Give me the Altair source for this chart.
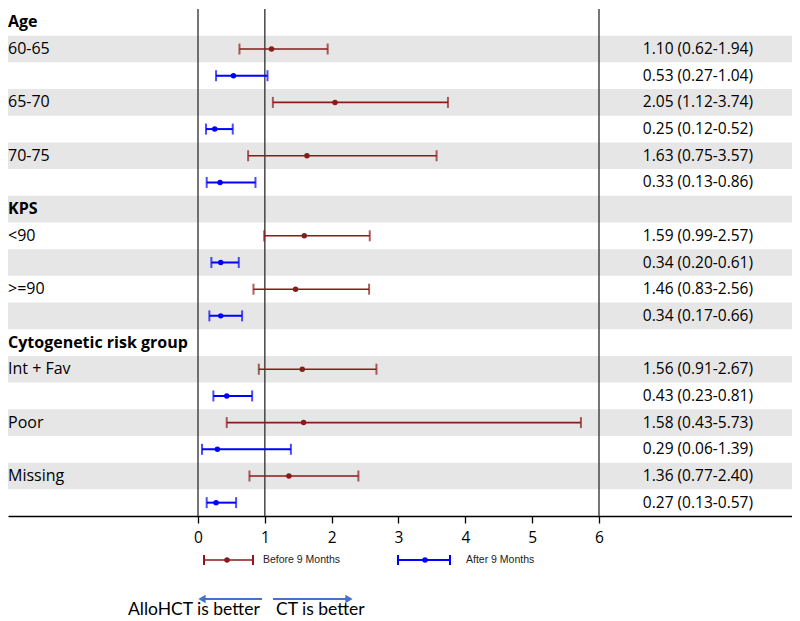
import altair as alt
import pandas as pd

# ---------------- data ----------------
sections = ["Age", "KPS", "Cytogenetic risk group"]
subgroups = [["60-65", "65-70", "70-75"], ["<90", ">=90"], ["Int + Fav", "Poor", "Missing"]]
before_hr = [1.10, 2.05, 1.63, 1.59, 1.46, 1.56, 1.58, 1.36]
before_lo = [0.62, 1.12, 0.75, 0.99, 0.83, 0.91, 0.43, 0.77]
before_hi = [1.94, 3.74, 3.57, 2.57, 2.56, 2.67, 5.73, 2.40]
after_hr = [0.53, 0.25, 0.33, 0.34, 0.34, 0.43, 0.29, 0.27]
after_lo = [0.27, 0.12, 0.13, 0.20, 0.17, 0.23, 0.06, 0.13]
after_hi = [1.04, 0.52, 0.86, 0.61, 0.66, 0.81, 1.39, 0.57]
series_names = ["Before 9 Months", "After 9 Months"]
series_colors = ["#8B1A1A", "#0000FF"]
x_ticks = [0, 1, 2, 3, 4, 5, 6]
ref_lines = [0, 1, 6]
bottom_left = "AlloHCT is better"
bottom_right = "CT is better"

# ---------------- build table ----------------
rows = []
r = 0
k = 0
for sec, subs in zip(sections, subgroups):
    rows.append(dict(row=r, label=sec, bold=True, series=None, hr=None, lo=None, hi=None, text=""))
    r += 1
    for s in subs:
        for si, (h, l, u) in enumerate([(before_hr[k], before_lo[k], before_hi[k]),
                                        (after_hr[k], after_lo[k], after_hi[k])]):
            rows.append(dict(row=r, label=s if si == 0 else "", bold=False,
                             series=series_names[si], hr=h, lo=l, hi=u,
                             text=f"{h:.2f} ({l:.2f}-{u:.2f})"))
            r += 1
        k += 1
nrows = r
df = pd.DataFrame(rows)
df["mid"] = df["row"] + 0.5
df["top"] = df["row"]
df["bot"] = df["row"] + 1
df["band"] = df["row"] % 2 == 1
est = df[df["series"].notna()].copy()
heads = df[df["bold"]].copy()
subs_df = df[(~df["bold"]) & (df["label"] != "")].copy()

# ---------------- layout ----------------
W, H = 784, 507
FONT = "Open Sans"
x_scale = alt.Scale(domain=[-2.843, 8.888], nice=False, zero=False)
y_scale = alt.Scale(domain=[0, nrows], reverse=True, nice=False, zero=False)
x_axis = alt.Axis(values=x_ticks, title=None, grid=False, domainColor="black", domainWidth=1.3,
                  tickColor="black", tickWidth=1.3, tickSize=7, labelFont=FONT, labelFontSize=15.5,
                  labelColor="black", labelPadding=7, format="d")
color = alt.Color("series:N", scale=alt.Scale(domain=series_names, range=series_colors), legend=None)
sw = alt.StrokeWidth("series:N", scale=alt.Scale(domain=series_names, range=[1.6, 2.0]), legend=None)

bands = alt.Chart(df).transform_filter("datum.band").mark_rect(color="#E6E6E6").encode(
    y=alt.Y("top:Q", scale=y_scale, axis=None), y2="bot",
    x=alt.value(0), x2=alt.value(W))

refs = alt.Chart(pd.DataFrame({"v": ref_lines})).mark_rule(color="#3a3a3a", strokeWidth=1.4).encode(
    x=alt.X("v:Q", scale=x_scale, axis=x_axis))

bars = alt.Chart(est).mark_rule().encode(
    x=alt.X("lo:Q", scale=x_scale, axis=x_axis), x2="hi",
    y=alt.Y("mid:Q", scale=y_scale, axis=None), color=color, strokeWidth=sw)

caps = alt.Chart(est).transform_fold(["lo", "hi"], as_=["end", "xv"]).mark_tick(
    orient="vertical", size=11, thickness=2).encode(
    x=alt.X("xv:Q", scale=x_scale, axis=x_axis),
    y=alt.Y("mid:Q", scale=y_scale, axis=None), color=color)

pts = alt.Chart(est).mark_circle(size=30, opacity=1).encode(
    x=alt.X("hr:Q", scale=x_scale, axis=x_axis),
    y=alt.Y("mid:Q", scale=y_scale, axis=None), color=color)

right_txt = alt.Chart(est).mark_text(align="right", baseline="middle", font=FONT, fontSize=15.5,
                                     color="black").encode(
    x=alt.value(745), y=alt.Y("mid:Q", scale=y_scale, axis=None), text="text:N")

head_txt = alt.Chart(heads).mark_text(
    align="left", baseline="middle", font=FONT, fontSize=16, fontWeight="bold", color="black").encode(
    x=alt.value(0), y=alt.Y("mid:Q", scale=y_scale, axis=None), text="label:N")

sub_txt = alt.Chart(subs_df).mark_text(
    align="left", baseline="middle", font=FONT, fontSize=16, color="black").encode(
    x=alt.value(0), y=alt.Y("mid:Q", scale=y_scale, axis=None), text="label:N")

# legend (drawn by hand)
one = pd.DataFrame({"a": [0]})
leg_layers = []
leg_pos = [(196, 245, 219, 255), (390, 442, 417, 458)]
LY = 551
for i, (x1, x2, xm, xt) in enumerate(leg_pos):
    c = series_colors[i]
    wdt = [1.6, 2.0][i]
    leg_layers += [
        alt.Chart(one).mark_rule(color=c, strokeWidth=wdt).encode(
            x=alt.value(x1), x2=alt.value(x2), y=alt.value(LY)),
        alt.Chart(one).mark_rule(color=c, strokeWidth=2).encode(
            x=alt.value(x1), y=alt.value(LY - 5), y2=alt.value(LY + 5)),
        alt.Chart(one).mark_rule(color=c, strokeWidth=2).encode(
            x=alt.value(x2), y=alt.value(LY - 5), y2=alt.value(LY + 5)),
        alt.Chart(one).mark_circle(color=c, size=30, opacity=1).encode(
            x=alt.value(xm), y=alt.value(LY)),
        alt.Chart(one).mark_text(text=series_names[i], align="left", baseline="middle",
                                 font="Liberation Sans", fontSize=10.5, color="#222222").encode(
            x=alt.value(xt), y=alt.value(LY)),
    ]

# arrows and direction text
AY = 590
AC = "#4472C4"
arrows = [
    alt.Chart(one).mark_rule(color=AC, strokeWidth=2).encode(
        x=alt.value(195), x2=alt.value(254), y=alt.value(AY)),
    alt.Chart(one).mark_point(shape="triangle-left", filled=True, color=AC, size=70, opacity=1).encode(
        x=alt.value(194), y=alt.value(AY)),
    alt.Chart(one).mark_rule(color=AC, strokeWidth=2).encode(
        x=alt.value(265), x2=alt.value(340), y=alt.value(AY)),
    alt.Chart(one).mark_point(shape="triangle-right", filled=True, color=AC, size=70, opacity=1).encode(
        x=alt.value(341), y=alt.value(AY)),
    alt.Chart(one).mark_text(text=bottom_left, align="left", baseline="alphabetic",
                             font="Lato", fontSize=17.5, color="black").encode(
        x=alt.value(120), y=alt.value(606)),
    alt.Chart(one).mark_text(text=bottom_right, align="left", baseline="alphabetic",
                             font="Lato", fontSize=17.5, color="black").encode(
        x=alt.value(268), y=alt.value(606)),
]

chart = alt.layer(bands, refs, bars, caps, pts, right_txt, head_txt, sub_txt,
                  *leg_layers, *arrows).properties(
    width=W, height=H, padding=0
).configure_view(stroke=None)

chart.save("out.html", embed_options={"renderer": "svg", "actions": False})
